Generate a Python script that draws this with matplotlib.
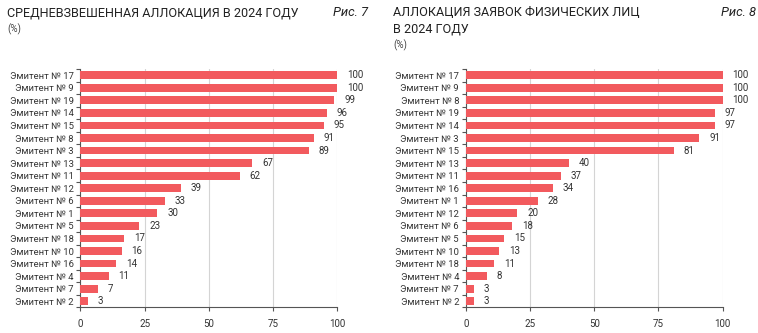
import numpy as np
import matplotlib.pyplot as plt
from matplotlib.ticker import FixedLocator

plt.rcParams['font.family'] = ['Roboto', 'DejaVu Sans']

# Рис. 7 - средневзвешенная аллокация
issuers_7 = ["Эмитент № 17", "Эмитент № 9", "Эмитент № 19", "Эмитент № 14", "Эмитент № 15",
             "Эмитент № 8", "Эмитент № 3", "Эмитент № 13", "Эмитент № 11", "Эмитент № 12",
             "Эмитент № 6", "Эмитент № 1", "Эмитент № 5", "Эмитент № 18", "Эмитент № 10",
             "Эмитент № 16", "Эмитент № 4", "Эмитент № 7", "Эмитент № 2"]
values_7 = [100, 100, 99, 96, 95, 91, 89, 67, 62, 39, 33, 30, 23, 17, 16, 14, 11, 7, 3]

# Рис. 8 - аллокация заявок физических лиц
issuers_8 = ["Эмитент № 17", "Эмитент № 9", "Эмитент № 8", "Эмитент № 19", "Эмитент № 14",
             "Эмитент № 3", "Эмитент № 15", "Эмитент № 13", "Эмитент № 11", "Эмитент № 16",
             "Эмитент № 1", "Эмитент № 12", "Эмитент № 6", "Эмитент № 5", "Эмитент № 10",
             "Эмитент № 18", "Эмитент № 4", "Эмитент № 7", "Эмитент № 2"]
values_8 = [100, 100, 100, 97, 97, 91, 81, 40, 37, 34, 28, 20, 18, 15, 13, 11, 8, 3, 3]

xticks = [0, 25, 50, 75, 100]

bar_col = "#f25a5e"
txt_col = "#333333"
grid_col = "#d4d4d4"

fig = plt.figure(figsize=(7.58, 3.33), dpi=100)


def draw(ax, names, vals):
    n = len(names)
    y = np.arange(n)
    ax.barh(y, vals, height=0.62, color=bar_col, zorder=3)
    ax.set_ylim(n - 0.5, -0.5)
    ax.set_xlim(0, 100)
    ax.set_yticks(y)
    ax.set_yticklabels(names, fontsize=6.8, color=txt_col)
    ax.tick_params(axis='y', which='major', length=0, pad=5)
    # засечки между категориями
    ax.yaxis.set_minor_locator(FixedLocator(np.arange(n + 1) - 0.5))
    ax.tick_params(axis='y', which='minor', length=3, width=0.8, color="#555555")
    ax.set_xticks(xticks)
    ax.set_xticklabels([str(t) for t in xticks], fontsize=7, color=txt_col)
    ax.tick_params(axis='x', length=3, width=0.8, color="#555555", pad=5)
    ax.grid(axis='x', color=grid_col, linewidth=0.8, zorder=0)
    for s in ['top', 'right']:
        ax.spines[s].set_visible(False)
    for s in ['left', 'bottom']:
        ax.spines[s].set_color("#555555")
        ax.spines[s].set_linewidth(0.8)
    for yi, v in zip(y, vals):
        ax.annotate(str(v), (v, yi), xytext=(7, 0), textcoords='offset points',
                    va='center', ha='left', fontsize=7, color=txt_col, annotation_clip=False)


ax1 = fig.add_axes([0.1062, 0.0766, 0.3384, 0.7162])
draw(ax1, issuers_7, values_7)
ax2 = fig.add_axes([0.6148, 0.0766, 0.3384, 0.7162])
draw(ax2, issuers_8, values_8)

fig.text(7 / 758, 1 - 13 / 333, "СРЕДНЕВЗВЕШЕННАЯ АЛЛОКАЦИЯ В 2024 ГОДУ", fontsize=9.1,
         color="#222222", va='center', ha='left')
fig.text(368 / 758, 1 - 13 / 333, "Рис. 7", fontsize=9.3, style='italic',
         color="#222222", va='center', ha='right')
fig.text(7 / 758, 1 - 29 / 333, "(%)", fontsize=7, color="#444444", va='center', ha='left')

fig.text(393 / 758, 1 - 13 / 333, "АЛЛОКАЦИЯ ЗАЯВОК ФИЗИЧЕСКИХ ЛИЦ", fontsize=9.1,
         color="#222222", va='center', ha='left')
fig.text(393 / 758, 1 - 29 / 333, "В 2024 ГОДУ", fontsize=9.1,
         color="#222222", va='center', ha='left')
fig.text(756 / 758, 1 - 13 / 333, "Рис. 8", fontsize=9.3, style='italic',
         color="#222222", va='center', ha='right')
fig.text(393 / 758, 1 - 45 / 333, "(%)", fontsize=7, color="#444444", va='center', ha='left')

fig.savefig("out.png", dpi=100, facecolor="white")
